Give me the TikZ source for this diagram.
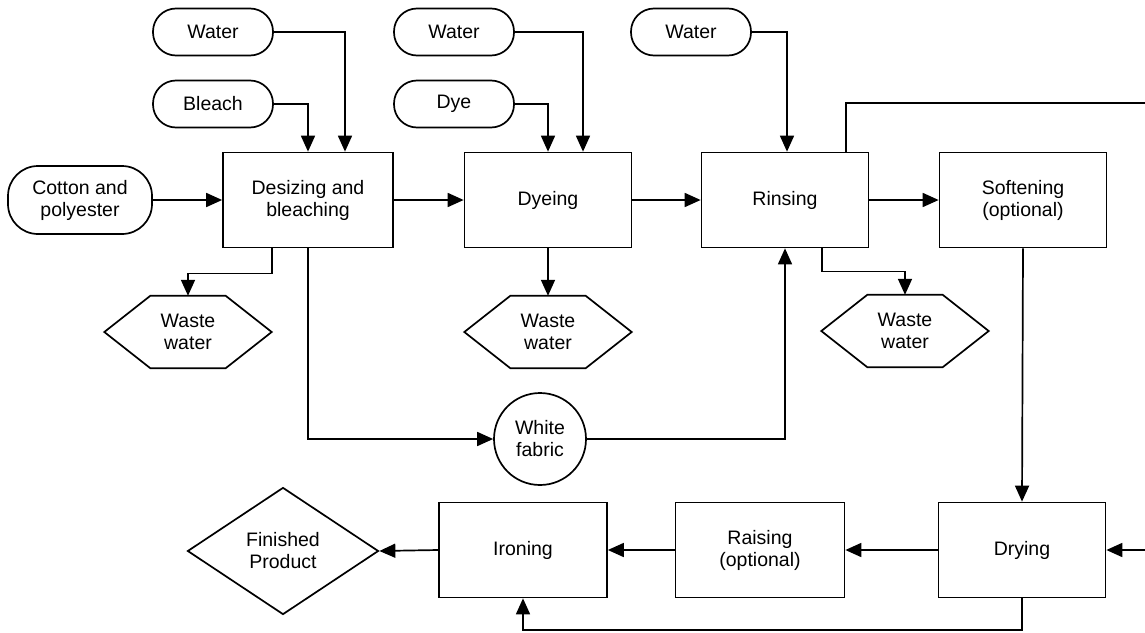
\documentclass[tikz,border=0pt]{standalone}
\usepackage{fontspec}
\setmainfont{Liberation Sans}
\usetikzlibrary{arrows.meta,shapes.geometric}
\begin{document}
\begin{tikzpicture}[x=1pt,y=-1pt,
  every node/.style={font=\fontsize{19.5}{22}\selectfont, align=center, inner sep=0pt},
  ln/.style={line width=1.7pt},
  arr/.style={ln, -{Triangle[length=16pt,width=14pt]}},
  input/.style={draw, ln, rounded corners=23pt, minimum width=120pt, minimum height=47pt},
  process/.style={draw, ln, minimum width=167pt, minimum height=95pt},
  waste/.style={minimum width=167pt, minimum height=72pt},
  product/.style={draw, ln, diamond, aspect=1.5, minimum width=191pt, minimum height=127pt},
  batch/.style={draw, ln, circle, minimum size=92pt}
]
\useasboundingbox (0,0) rectangle (1145,632);

% inputs
\node[input] (w1) at (213,32) {Water};
\node[input] (bl) at (213,104) {Bleach};
\node[input, minimum width=144pt, minimum height=68pt, rounded corners=30pt] (cot) at (80,200) {Cotton and\\polyester};
\node[input] (w2) at (454,32) {Water};
\node[input] (dy) at (454,104) {Dye};
\node[input] (w3) at (691,32) {Water};

% process steps
\node[process, minimum width=170pt] (des) at (308,200) {Desizing and\\bleaching};
\node[process] (dye) at (548,200) {Dyeing};
\node[process] (rin) at (785,200) {Rinsing};
\node[process] (sof) at (1023,200) {Softening\\(optional)};
\node[process] (dry) at (1022,550) {Drying};
\node[process, minimum width=169pt] (rai) at (760,550) {Raising\\(optional)};
\node[process, minimum width=168pt] (iro) at (523,550) {Ironing};
\node[product] (fin) at (283,551) {Finished\\Product};

% waste water outlets
\node[waste] (ww1) at (188,332) {Waste\\water};
\node[waste] (ww2) at (548,332) {Waste\\water};
\node[waste] (ww3) at (905,331) {Waste\\water};
\foreach \n in {ww1,ww2,ww3}
  \draw[ln] (\n.west) -- ([xshift=46pt]\n.north west) -- ([xshift=-46pt]\n.north east)
    -- (\n.east) -- ([xshift=-46pt]\n.south east) -- ([xshift=46pt]\n.south west) -- cycle;

\node[batch] (wf) at (540,439) {White\\fabric};

% cut-off ends at the right margin
\coordinate (topout) at (1145,103);
\coordinate (rightin) at (1145,550);
\coordinate (loop) at (1022,630);

% connectors
\draw[arr] (w1.east) -| ([xshift=37pt]des.north);
\draw[arr] (bl.east) -| (des.north);
\draw[arr] (cot.east) -- (des.west);
\draw[arr] (des.east) -- (dye.west);
\draw[arr] (w2.east) -| ([xshift=35pt]dye.north);
\draw[arr] (dy.east) -| (dye.north);
\draw[arr] (dye.east) -- (rin.west);
\draw[arr] (w3.east) -| ([xshift=2pt]rin.north);
\draw[arr] (rin.east) -- (sof.west);
\draw[ln] ([xshift=61pt]rin.north) |- (topout);
\draw[arr] (sof.south) -- (dry.north);
\draw[arr] (rightin) -- (dry.east);
\draw[arr] (dry.west) -- (rai.east);
\draw[arr] (rai.west) -- (iro.east);
\draw[arr] (iro.west) -- (fin.east);
\draw[arr] (dry.south) -- (loop) -| (iro.south);
\draw[arr] ([xshift=-36pt]des.south) -- ++(0,25) -| (ww1.north);
\draw[arr] (des.south) |- (wf.west);
\draw[arr] (wf.east) -| (rin.south);
\draw[arr] (dye.south) -- (ww2.north);
\draw[arr] ([xshift=37pt]rin.south) -- ++(0,23) -| (ww3.north);
\end{tikzpicture}
\end{document}
